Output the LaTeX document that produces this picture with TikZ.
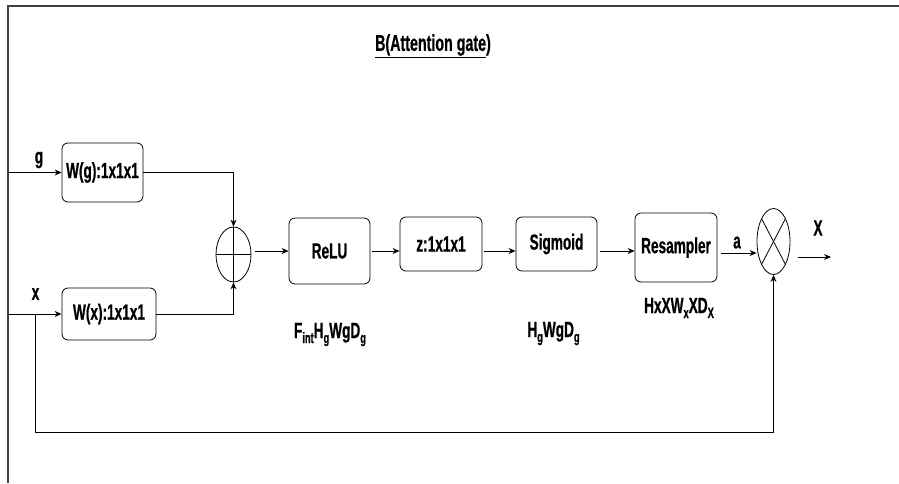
\documentclass[tikz,border=0pt]{standalone}
\usepackage{fontspec}
\setmainfont{Liberation Sans}[FakeStretch=0.62, BoldFeatures={FakeBold=0.6}]
\usetikzlibrary{arrows.meta, positioning, shapes.geometric}

\newcommand{\lowsub}[1]{\raisebox{-5pt}{\fontsize{15}{18}\selectfont #1}}

\begin{document}
\begin{tikzpicture}[x=1pt, y=-1pt, >={Stealth[length=7pt, width=6pt]},
  blk/.style={draw, rounded corners=6pt, inner sep=0pt, align=center, line width=0.8pt, font=\fontsize{22}{26}\selectfont\bfseries},
  opnode/.style={draw, ellipse, inner sep=0pt, line width=0.8pt},
  lbl/.style={inner sep=0pt, font=\fontsize{22}{26}\selectfont\bfseries},
  flow/.style={->, line width=0.9pt}]

  \useasboundingbox (0,0) rectangle (899,483);
  \draw[line width=1.4pt, black!75] (899,6) -- (8,6) -- (8,483);

  \node[lbl, font=\fontsize{23}{26}\selectfont\bfseries] (title) at (433,46) {\underline{B(Attention gate})};

  \node[blk, minimum width=81pt, minimum height=59pt] (w-g) at (102.5,172.5) {W(g):1x1x1};
  \node[blk, minimum width=94pt, minimum height=52pt] (w-x) at (109,314) {W(x):1x1x1};

  \node[opnode, minimum width=35pt, minimum height=55pt] (sum) at (233.5,254.5) {};
  \draw[line width=0.8pt] (sum.north) -- (sum.south);
  \draw[line width=0.8pt] (sum.west) -- (sum.east);

  \node[blk, minimum width=81pt, minimum height=66pt] (relu) at (329.5,251) {ReLU};
  \node[blk, minimum width=82pt, minimum height=54pt] (conv-z) at (441,244) {z:1x1x1};
  \node[blk, minimum width=81pt, minimum height=54pt] (sig) at (556.5,244) {Sigmoid};
  \node[blk, minimum width=82pt, minimum height=69pt] (resamp) at (676,247.5) {Resampler};

  \node[opnode, minimum width=33pt, minimum height=66pt] (prod) at (773.5,241.5) {};
  \draw[line width=0.8pt] (prod.center) ++(-12,-23) -- ++(24,46);
  \draw[line width=0.8pt] (prod.center) ++(12,-23) -- ++(-24,46);

  % inputs
  \coordinate (g-in) at (8,172.5);
  \coordinate (x-in) at (8,314);
  \coordinate (x-split) at (35,314);
  \coordinate (out) at (831,257);
  \node[lbl] (g-lbl) at (39,160) {g};
  \node[lbl] (x-lbl) at (35.5,294) {x};

  \draw[flow] (g-in) -- (w-g);
  \draw[flow] (x-in) -- (w-x);
  \draw[flow] (w-g) -| (sum);
  \draw[flow] (w-x) -| (sum);

  \draw[flow, shorten <=4pt] (sum.east |- relu.east) -- (relu.west);
  \draw[flow, shorten <=2pt] (relu.east) -- (relu.east -| conv-z.west);
  \draw[flow, shorten <=2pt] (conv-z.east |- relu.east) -- (sig.west |- relu.east);
  \draw[flow, shorten <=3pt] (sig.east |- relu.east) -- (resamp.west |- relu.east);
  \draw[flow, shorten <=4pt] (resamp.east |- 0,253) -- (prod.west |- 0,253)
    node[midway, above=4pt, lbl] (a-lbl) {a};
  \draw[flow, shorten <=8pt] (prod.east |- out) -- (out);
  \node[lbl] (out-lbl) at (818,228) {X};

  % skip connection
  \draw[flow] (x-split) -- ++(0,118) -| (prod);

  % sizes
  \node[lbl, anchor=base] (relu-size) at (330,338) {F\lowsub{int}H\lowsub{g}WgD\lowsub{g}};
  \node[lbl, anchor=base] (sig-size) at (553.5,337) {H\lowsub{g}WgD\lowsub{g}};
  \node[lbl, anchor=base] (resamp-size) at (679,313) {HxXW\lowsub{x}XD\lowsub{X}};

\end{tikzpicture}
\end{document}
